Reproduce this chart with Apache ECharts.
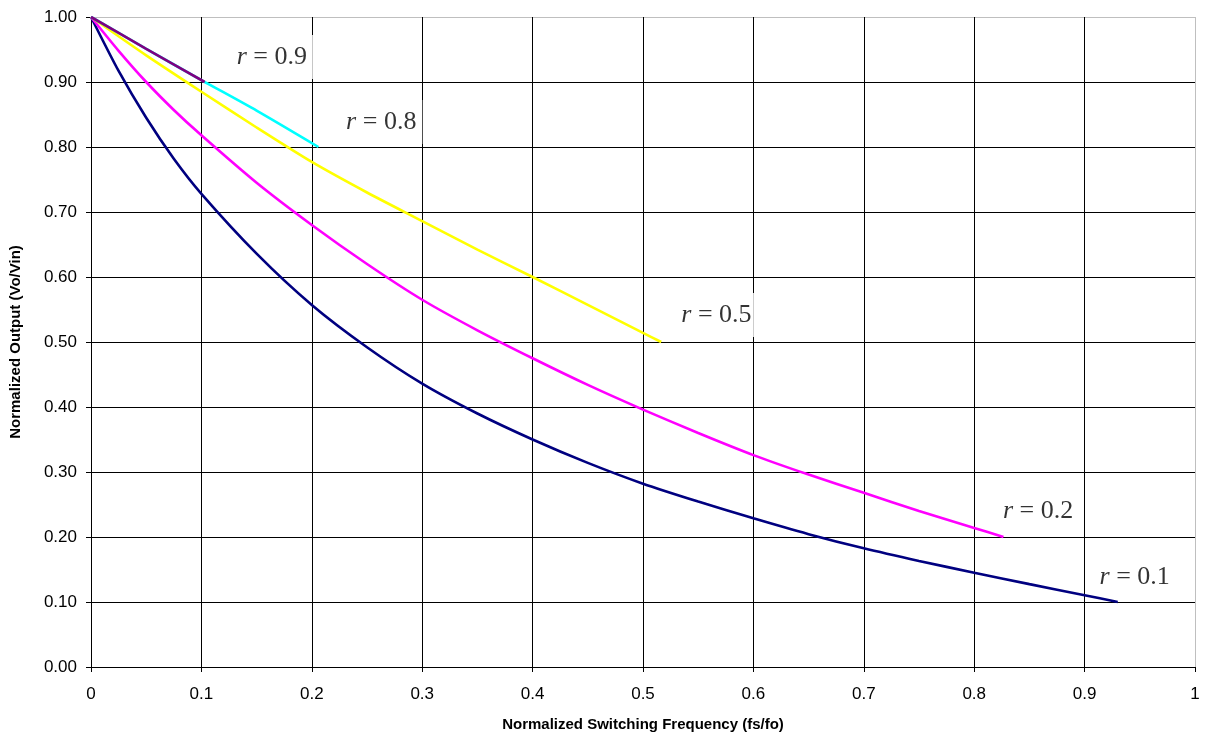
<!DOCTYPE html>
<html>
<head>
<meta charset="utf-8">
<title>Normalized Output vs Normalized Switching Frequency</title>
<script src="https://cdn.jsdelivr.net/npm/echarts@6/dist/echarts.min.js"></script>
<style>
  html, body { margin: 0; padding: 0; background: #fff; }
  #chart { width: 1212px; height: 740px; }
</style>
</head>
<body>
<div id="chart"></div>
<script>
// Curves of Vo/Vin against fs/fo, one per ratio r
const r01X = [0, 0.025, 0.05, 0.075, 0.1, 0.15, 0.2, 0.25, 0.3, 0.35, 0.4, 0.45, 0.5, 0.55, 0.6, 0.65, 0.7, 0.75, 0.8, 0.85, 0.9, 0.93];
const r01Y = [1, 0.917, 0.845, 0.782, 0.728, 0.636, 0.557, 0.492, 0.436, 0.390, 0.350, 0.314, 0.282, 0.2545, 0.2287, 0.2044, 0.1826, 0.1632, 0.145, 0.1275, 0.1105, 0.100];

const r02X = [0, 0.025, 0.05, 0.075, 0.1, 0.15, 0.2, 0.25, 0.3, 0.35, 0.4, 0.45, 0.5, 0.55, 0.6, 0.65, 0.7, 0.75, 0.8, 0.8265];
const r02Y = [1, 0.948, 0.900, 0.857, 0.818, 0.745, 0.680, 0.620, 0.565, 0.518, 0.475, 0.434, 0.396, 0.360, 0.326, 0.296, 0.268, 0.240, 0.214, 0.200];

const r05X = [0, 0.05, 0.1, 0.15, 0.2, 0.25, 0.3, 0.35, 0.4, 0.45, 0.5, 0.5165];
const r05Y = [1, 0.941, 0.885, 0.830, 0.777, 0.730, 0.686, 0.642, 0.600, 0.557, 0.514, 0.500];

const r08X = [0, 0.05, 0.1, 0.15, 0.206];
const r08Y = [1, 0.951, 0.903, 0.856, 0.800];

const r09X = [0, 0.05, 0.103];
const r09Y = [1, 0.951, 0.900];

const curveNames = ['r = 0.1', 'r = 0.2', 'r = 0.5', 'r = 0.8', 'r = 0.9'];
const xTicks = [0, 0.1, 0.2, 0.3, 0.4, 0.5, 0.6, 0.7, 0.8, 0.9, 1];
const yTicks = [0, 0.1, 0.2, 0.3, 0.4, 0.5, 0.6, 0.7, 0.8, 0.9, 1];

// Where each curve's caption sits, in axis units
const captionAnchors = [[0.9454, 0.138], [0.8579, 0.239], [0.5665, 0.5415], [0.2629, 0.8385], [0.1638, 0.9385]];

const curveColors = ['#000080', '#FF00FF', '#FFFF00', '#00FFFF', '#800080'];

function pairs(xs, ys) { return xs.map((x, i) => [x, ys[i]]); }

const curves = [pairs(r01X, r01Y), pairs(r02X, r02Y), pairs(r05X, r05Y), pairs(r08X, r08Y), pairs(r09X, r09Y)];

const lineSeries = curves.map((data, i) => ({
  name: curveNames[i],
  type: 'line',
  data: data,
  smooth: 0.25,
  showSymbol: false,
  symbol: 'none',
  lineStyle: { color: curveColors[i], width: 2.6 },
  z: 5 + i,
  silent: true
}));

const serif = '"Liberation Serif", "Times New Roman", serif';
const sans = '"Liberation Sans", Arial, sans-serif';

// Captions sit on white boxes above the grid but beneath the curves
const captionSeries = {
  type: 'scatter',
  symbolSize: 0,
  silent: true,
  z: 3,
  data: captionAnchors.map((p, i) => ({ value: p, caption: curveNames[i] })),
  label: {
    show: true,
    position: 'inside',
    formatter: (p) => '{i|r}{n|' + p.data.caption.slice(1) + '}',
    lineHeight: 28,
    backgroundColor: '#fff',
    padding: [8, 6, 8, 6],
    rich: {
      i: { fontStyle: 'italic', fontFamily: serif, fontSize: 26, color: '#000' },
      n: { fontFamily: serif, fontSize: 26, color: '#000' }
    }
  }
};

const gridColorsX = xTicks.map((v, i) => i === xTicks.length - 1 ? '#bfbfbf' : '#000');
const gridColorsY = yTicks.map((v, i) => i === yTicks.length - 1 ? '#bfbfbf' : '#000');

const chart = echarts.init(document.getElementById('chart'), null, { renderer: 'canvas' });
chart.setOption({
  animation: false,
  backgroundColor: '#fff',
  grid: { left: 90, right: 17, top: 17, bottom: 73, containLabel: false },
  xAxis: {
    type: 'value',
    min: xTicks[0],
    max: xTicks[xTicks.length - 1],
    interval: 0.1,
    name: 'Normalized Switching Frequency (fs/fo)',
    nameLocation: 'middle',
    nameGap: 50,
    nameTextStyle: { fontFamily: sans, fontWeight: 'bold', fontSize: 15, color: '#000' },
    axisLine: { show: true, onZero: false, lineStyle: { color: '#000', width: 1 } },
    axisTick: { show: true, length: 5, inside: false, lineStyle: { color: '#000' } },
    axisLabel: {
      margin: 19,
      fontFamily: sans,
      fontSize: 17,
      color: '#000',
      formatter: (v) => String(+v.toFixed(1))
    },
    splitLine: { show: true, lineStyle: { color: gridColorsX, width: 1 } }
  },
  yAxis: {
    type: 'value',
    min: yTicks[0],
    max: yTicks[yTicks.length - 1],
    interval: 0.1,
    name: 'Normalized Output (Vo/Vin)',
    nameLocation: 'middle',
    nameGap: 68,
    nameRotate: 90,
    nameTextStyle: { fontFamily: sans, fontWeight: 'bold', fontSize: 15, color: '#000' },
    axisLine: { show: true, onZero: false, lineStyle: { color: '#000', width: 1 } },
    axisTick: { show: true, length: 5, inside: false, lineStyle: { color: '#000' } },
    axisLabel: {
      margin: 14,
      fontFamily: sans,
      fontSize: 17,
      color: '#000',
      formatter: (v) => v.toFixed(2)
    },
    splitLine: { show: true, lineStyle: { color: gridColorsY, width: 1 } }
  },
  series: [captionSeries].concat(lineSeries)
});
</script>
</body>
</html>
